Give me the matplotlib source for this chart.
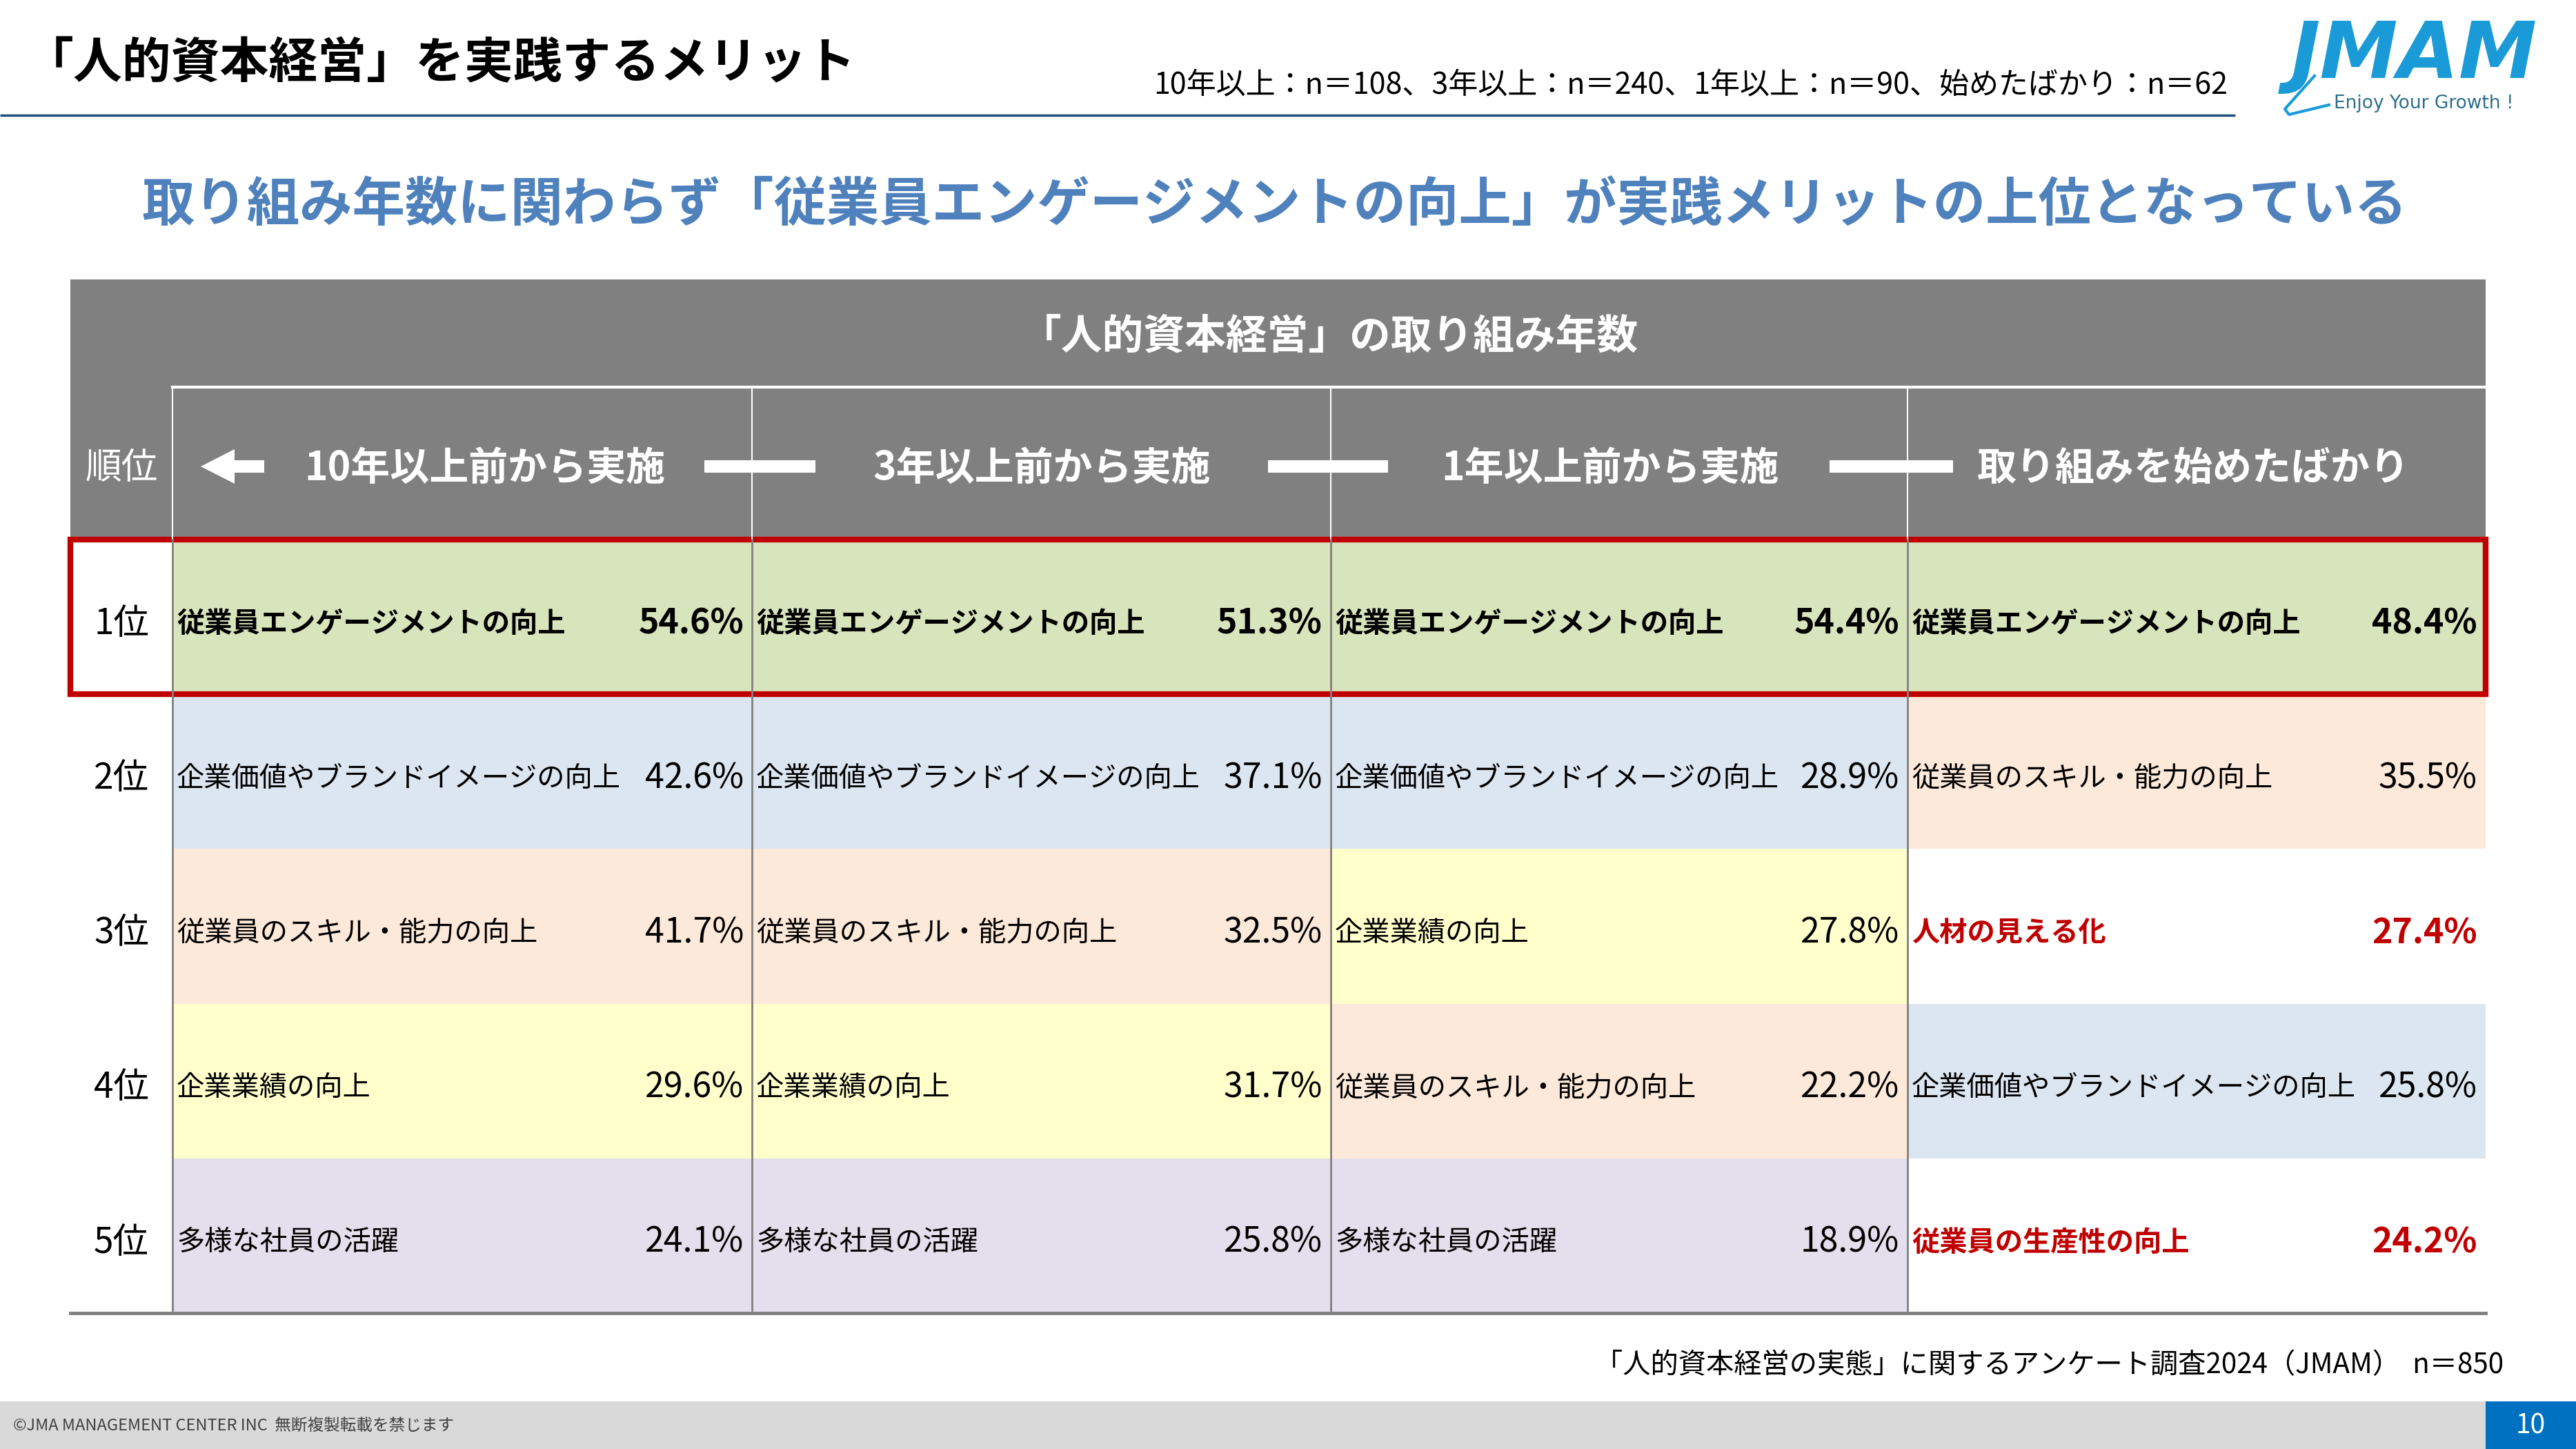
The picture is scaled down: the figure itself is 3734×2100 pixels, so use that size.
import matplotlib
matplotlib.use("Agg")
from matplotlib import pyplot as plt
from matplotlib.patches import Rectangle, Polygon

plt.rcParams['font.family'] = ['Noto Sans CJK JP', 'DejaVu Sans']

# データ
ranks = ['1位', '2位', '3位', '4位', '5位']
groups = ['10年以上前から実施', '3年以上前から実施', '1年以上前から実施', '取り組みを始めたばかり']
sample_note = '10年以上：n＝108、3年以上：n＝240、1年以上：n＝90、始めたばかり：n＝62'

items_10y = ['従業員エンゲージメントの向上', '企業価値やブランドイメージの向上',
             '従業員のスキル・能力の向上', '企業業績の向上', '多様な社員の活躍']
vals_10y = [54.6, 42.6, 41.7, 29.6, 24.1]

items_3y = ['従業員エンゲージメントの向上', '企業価値やブランドイメージの向上',
            '従業員のスキル・能力の向上', '企業業績の向上', '多様な社員の活躍']
vals_3y = [51.3, 37.1, 32.5, 31.7, 25.8]

items_1y = ['従業員エンゲージメントの向上', '企業価値やブランドイメージの向上',
            '企業業績の向上', '従業員のスキル・能力の向上', '多様な社員の活躍']
vals_1y = [54.4, 28.9, 27.8, 22.2, 18.9]

items_new = ['従業員エンゲージメントの向上', '従業員のスキル・能力の向上',
             '人材の見える化', '企業価値やブランドイメージの向上', '従業員の生産性の向上']
vals_new = [48.4, 35.5, 27.4, 25.8, 24.2]

items_all = [items_10y, items_3y, items_1y, items_new]
vals_all = [vals_10y, vals_3y, vals_1y, vals_new]

# 項目ごとの背景色 (ない項目は白背景・赤字)
item_colors = {
    '従業員エンゲージメントの向上': '#D8E4BC',
    '企業価値やブランドイメージの向上': '#DCE6F1',
    '従業員のスキル・能力の向上': '#FDE9D9',
    '企業業績の向上': '#FFFFCC',
    '多様な社員の活躍': '#E4DFEC',
}

W, H = 3734, 2100
fig = plt.figure(figsize=(W / 100, H / 100), dpi=100)
ax = fig.add_axes([0, 0, 1, 1])
ax.set_xlim(0, W)
ax.set_ylim(H, 0)
ax.axis('off')

# タイトル部
ax.text(36, 92, '「人的資本経営」を実践するメリット', fontsize=51, fontweight='bold',
        ha='left', va='center', color='black')
ax.plot([0, 3240], [167, 167], color='#1F4E79', lw=2.5, solid_capstyle='butt')
ax.text(3229, 123, sample_note, fontsize=31, ha='right', va='center', color='black')

# ロゴ
ax.text(3500, 82, 'JMAM', fontsize=82, fontweight='bold', fontstyle='italic',
        family='DejaVu Sans', color='#1A9BD7', ha='center', va='center')
ax.text(3383, 150, 'Enjoy Your Growth !', fontsize=19, family='DejaVu Sans',
        color='#2C6E8A', ha='left', va='center')
ax.plot([3355, 3312, 3318, 3376], [110, 158, 166, 152], color='#1A9BD7', lw=3)

# サブタイトル
ax.text(1848, 298, '取り組み年数に関わらず「従業員エンゲージメントの向上」が実践メリットの上位となっている',
        fontsize=55, fontweight='bold', color='#4F81BD', ha='center', va='center')

# 表レイアウト
col_edges = [102, 250, 1090, 1929, 2765, 3603]
hdr_top, hdr_mid, hdr_bot = 405, 561, 782
row_h = (1903 - hdr_bot) / len(ranks)
gray = '#808080'

ax.add_patch(Rectangle((col_edges[0], hdr_top), col_edges[-1] - col_edges[0],
                       hdr_bot - hdr_top, facecolor=gray, edgecolor='none'))
ax.plot([col_edges[1], col_edges[-1]], [hdr_mid, hdr_mid], color='white', lw=3)
for x in col_edges[1:-1]:
    ax.plot([x, x], [hdr_mid, hdr_bot], color='white', lw=1.5)

ax.text((col_edges[1] + col_edges[-1]) / 2, 488, '「人的資本経営」の取り組み年数',
        fontsize=43, fontweight='bold', color='white', ha='center', va='center')
ax.text((col_edges[0] + col_edges[1]) / 2, 678, '順位', fontsize=38,
        color='white', ha='center', va='center')

hdr_y = 676
text_centers = [703, 1510, 2334, 3179]
for g, cx in zip(groups, text_centers):
    ax.text(cx, hdr_y + 3, g, fontsize=41, fontweight='bold', color='white',
            ha='center', va='center')

# 時間軸の矢印とバー
bar_spans = [(1021, 1182), (1838, 2012), (2652, 2831)]
for x0, x1 in bar_spans:
    ax.add_patch(Rectangle((x0, hdr_y - 9), x1 - x0, 18, facecolor='white', edgecolor='none'))
ax.add_patch(Polygon([(291, hdr_y), (340, hdr_y - 25), (340, hdr_y - 9), (383, hdr_y - 9),
                      (383, hdr_y + 9), (340, hdr_y + 9), (340, hdr_y + 25)],
                     closed=True, facecolor='white', edgecolor='none'))

# データセル
for c, (items, vals) in enumerate(zip(items_all, vals_all)):
    x0, x1 = col_edges[c + 1], col_edges[c + 2]
    for r, (item, v) in enumerate(zip(items, vals)):
        y0 = hdr_bot + r * row_h
        yc = y0 + row_h / 2 + 10
        face = item_colors.get(item, 'white')
        ax.add_patch(Rectangle((x0, y0), x1 - x0, row_h, facecolor=face, edgecolor='none'))
        if item not in item_colors:
            color, weight = '#C00000', 'bold'
        elif r == 0:
            color, weight = 'black', 'bold'
        else:
            color, weight = 'black', 'normal'
        ax.text(x0 + 6, yc, item, fontsize=29, color=color, fontweight=weight,
                ha='left', va='center')
        ax.text(x1 - 12, yc, f'{v:.1f}%', fontsize=36, color=color, fontweight=weight,
                ha='right', va='center')

for r, rk in enumerate(ranks):
    yc = hdr_bot + (r + 0.5) * row_h + 10
    ax.text((col_edges[0] + col_edges[1]) / 2, yc, rk, fontsize=37,
            color='black', ha='center', va='center')

for x in col_edges[1:-1]:
    ax.plot([x, x], [hdr_bot, 1903], color=gray, lw=2)
ax.plot([col_edges[0], col_edges[-1]], [1903, 1903], color=gray, lw=3.5)

# 1位の赤枠
ax.add_patch(Rectangle((col_edges[0], hdr_bot), col_edges[-1] - col_edges[0], row_h,
                       facecolor='none', edgecolor='#C00000', lw=6))

# 出典
ax.text(3629, 1979, '「人的資本経営の実態」に関するアンケート調査2024（JMAM）  n＝850',
        fontsize=29, ha='right', va='center', color='black')

# フッター
ax.add_patch(Rectangle((0, 2031), W, H - 2031, facecolor='#D9D9D9', edgecolor='none'))
ax.add_patch(Rectangle((3603, 2031), W - 3603, H - 2031, facecolor='#0070C0', edgecolor='none'))
ax.text(19, 2067, '©JMA MANAGEMENT CENTER INC  無断複製転載を禁じます', fontsize=17,
        color='#404040', ha='left', va='center')
ax.text((3603 + W) / 2, 2067, '10', fontsize=28, color='white', ha='center', va='center')

fig.savefig('out.png', dpi=100)
